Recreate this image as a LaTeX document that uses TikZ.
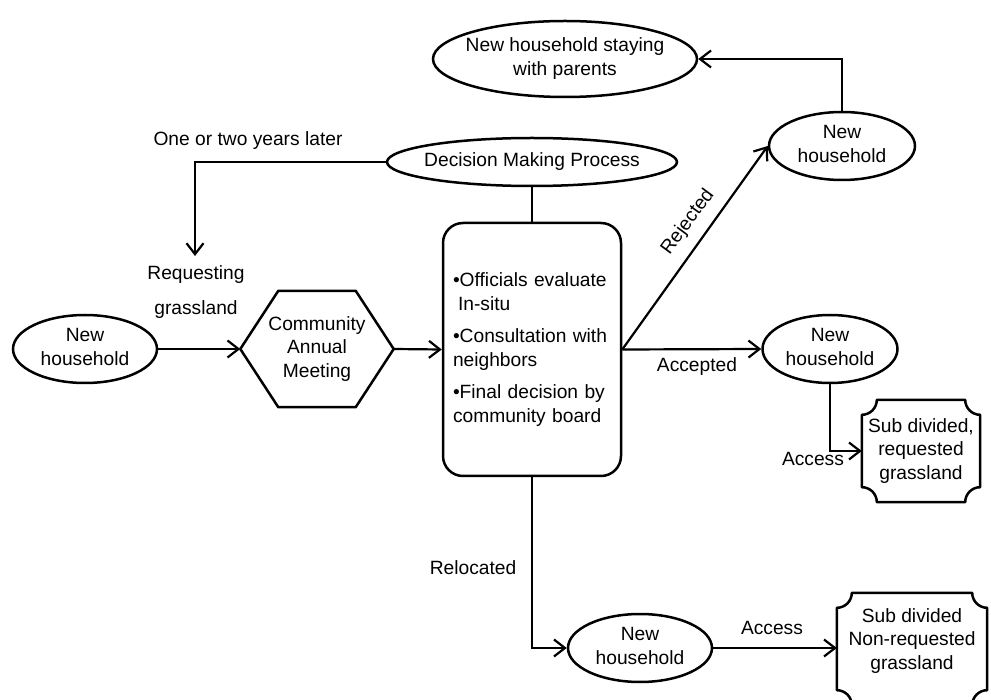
\documentclass[tikz,border=0pt]{standalone}
\usepackage{fontspec}
\setmainfont{Liberation Sans}
\usetikzlibrary{arrows.meta,shapes.geometric}
\newcommand\ctext[1]{\makebox[0pt]{\begin{tabular}{@{}c@{}}#1\end{tabular}}}
\newcommand\plaquedraw[2]{%
\draw[shapeln] ([shift={(15,0)}]#1.north west) -- ([shift={(-15,0)}]#1.north east)
 .. controls ([shift={(-15,8.3)}]#1.north east) and ([shift={(-8.3,15)}]#1.north east) .. ([shift={(0,15)}]#1.north east)
 -- ([shift={(0,#2-15)}]#1.south east)
 .. controls ([shift={(-8.3,#2-15)}]#1.south east) and ([shift={(-15,#2-8.3)}]#1.south east) .. ([shift={(-15,#2)}]#1.south east)
 -- ([shift={(15,#2)}]#1.south west)
 .. controls ([shift={(15,#2-8.3)}]#1.south west) and ([shift={(8.3,#2-15)}]#1.south west) .. ([shift={(0,#2-15)}]#1.south west)
 -- ([shift={(0,15)}]#1.north west)
 .. controls ([shift={(8.3,15)}]#1.north west) and ([shift={(15,8.3)}]#1.north west) .. cycle;}
\begin{document}
\begin{tikzpicture}[x=1pt,y=-1pt,
  font=\fontsize{19.2}{23.5}\selectfont,
  shapeln/.style={line width=2.5pt, line join=round},
  ell/.style={ellipse, draw, line width=2.5pt, inner sep=0pt},
  arr/.style={line width=2.2pt, -{Straight Barb[length=11pt,width=17pt,line width=2.2pt]}},
  thinln/.style={line width=1.8pt},
  lbl/.style={inner sep=0pt}]
\useasboundingbox (0,0) rectangle (991,700);

% nodes
\node[ell, minimum width=144pt, minimum height=68pt] (nh1) at (85,349) {\ctext{New\\household}};
\node[minimum width=153pt, minimum height=116pt, align=center, inner sep=0pt] (hex) at (317,349) {Community\\Annual\\Meeting};
\draw[shapeln] (hex.west) -- ([shift={(38,0)}]hex.north west) -- ([shift={(-38,0)}]hex.north east)
  -- (hex.east) -- ([shift={(-38,0)}]hex.south east) -- ([shift={(38,0)}]hex.south west) -- cycle;
\node[draw, line width=2.5pt, rounded corners=20pt, minimum width=178pt, minimum height=253pt,
  text width=158pt, inner xsep=10pt, align=left] (box) at (532,349.5)
  {•Officials evaluate\\\hspace*{5pt}In-situ\\[9pt]•Consultation with\\neighbors\\[9pt]•Final decision by\\community board};
\node[ell, minimum width=290pt, minimum height=48pt] (dmp) at (532,162) {\ctext{Decision Making Process}};
\node[ell, minimum width=264pt, minimum height=76pt] (top) at (565,59) {\ctext{New household staying\\with parents}};
\node[ell, minimum width=146pt, minimum height=68pt] (nhR) at (842,146) {\ctext{New\\household}};
\node[ell, minimum width=135pt, minimum height=68pt] (nhA) at (830,349) {\ctext{New\\household}};
\node[ell, minimum width=144pt, minimum height=68pt] (nhB) at (640,648) {\ctext{New\\household}};
\node[minimum width=118pt, minimum height=102pt, align=center, inner sep=0pt] (sub1) at (921,451) {Sub divided,\\requested\\grassland};
\plaquedraw{sub1}{0}
\node[minimum width=150pt, minimum height=96pt, align=center, inner sep=0pt] (sub2) at (912,641) {Sub divided\\Non-requested\\grassland};
\plaquedraw{sub2}{16}

% labels
\node[lbl] (later) at (248,141) {One or two years later};
\node[lbl, align=center] (req) at (196,292) {Requesting\\[11pt]grassland};
\node[lbl, rotate=53.6] (rej) at (688,222) {Rejected};
\node[lbl] (acc) at (697,367) {Accepted};
\node[lbl] (acc1) at (813,459) {Access};
\node[lbl] (rel) at (473,568) {Relocated};
\node[lbl] (acc2) at (772,628) {Access};
\coordinate (reqtop) at (195,256);

% connectors
\draw[arr] (dmp.west) -| (reqtop);
\draw[thinln] (dmp.south) -- (box.north);
\draw[arr] (nh1.east) -- (hex.west);
\draw[arr] (hex.east) -- (box.west);
\draw[arr] (box.east) -- (nhR.west);
\draw[arr] (box.east) -- (nhA.west);
\draw[arr] (nhR.north) |- (top.east);
\draw[arr] (nhA.south) |- (sub1.west);
\draw[arr] (box.south) |- (nhB.west);
\draw[arr] (nhB.east) -- (nhB.east -| sub2.west);
\end{tikzpicture}
\end{document}
